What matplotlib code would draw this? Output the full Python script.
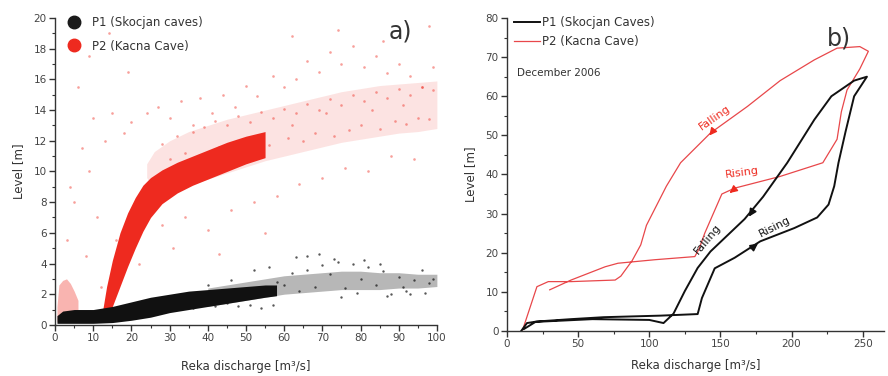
import matplotlib
matplotlib.use("Agg")
import matplotlib.pyplot as plt
from matplotlib.ticker import MultipleLocator
from matplotlib.lines import Line2D

# ---------------- data: panel a ----------------
# dense red band (P2)
red_band_q = [12.5, 13.5, 15.0, 17.0, 19.0, 21.0, 23.0, 25.0, 28.0, 32.0, 36.0, 40.0, 45.0, 50.0, 55.0]
red_band_lo = [0.6, 0.7, 1.2, 2.5, 3.8, 5.0, 6.1, 7.0, 7.9, 8.6, 9.1, 9.5, 10.0, 10.5, 10.9]
red_band_hi = [1.0, 2.5, 4.2, 6.0, 7.3, 8.3, 9.1, 9.6, 10.1, 10.6, 11.0, 11.4, 11.9, 12.3, 12.6]
# diffuse red cloud (P2)
red_cloud_q = [24, 26, 30, 35, 40, 45, 50, 55, 60, 65, 70, 75, 80, 85, 90, 95, 100]
red_cloud_lo = [9.6, 8.8, 8.8, 9.1, 9.5, 9.9, 10.3, 10.7, 11.0, 11.3, 11.6, 11.9, 12.1, 12.3, 12.5, 12.6, 12.8]
red_cloud_hi = [10.5, 11.3, 12.0, 12.6, 13.0, 13.4, 13.7, 14.0, 14.3, 14.6, 14.9, 15.2, 15.4, 15.6, 15.7, 15.8, 15.9]
# low-discharge red patch
red_low_q = [0.5, 1.0, 2.0, 3.0, 4.0, 5.0, 6.0]
red_low_lo = [0.2, 0.2, 0.2, 0.3, 0.3, 0.3, 0.4]
red_low_hi = [1.2, 2.6, 2.9, 3.0, 2.7, 2.2, 1.6]
# sparse red points
red_pts_q = [3, 5, 7, 8, 10, 11, 6, 9, 13, 4, 15, 18, 20, 24, 27, 30, 33, 36, 38, 41, 44, 47, 50, 53,
             57, 60, 63, 66, 69, 72, 75, 78, 81, 84, 87, 90, 93, 96, 99, 28, 34, 40, 46, 52, 58,
             64, 70, 76, 82, 88, 94, 12, 16, 22, 31, 43, 55, 62, 74, 86, 98, 9, 14, 19,
             # inside the diffuse cloud
             28, 32, 36, 39, 42, 45, 48, 51, 54, 57, 60, 63, 66, 69, 72, 75, 78, 81, 84, 87, 90, 93, 96, 99,
             30, 34, 38, 43, 47, 52, 56, 61, 65, 68, 73, 77, 80, 85, 89, 92, 95, 98, 62, 71, 83, 91]
red_pts_l = [5.5, 8.0, 11.5, 4.5, 13.5, 7.0, 15.5, 10.0, 12.0, 9.0, 13.8, 12.5, 13.2, 13.8, 14.2, 13.5, 14.6, 13.0,
             14.8, 13.8, 15.0, 14.2, 15.6, 14.9, 16.2, 15.5, 16.0, 17.2, 16.5, 17.8, 17.0, 18.2, 16.8, 17.5,
             16.4, 17.0, 16.2, 15.5, 16.8, 6.5, 7.0, 6.2, 7.5, 8.0, 8.4, 9.2, 9.6, 10.2, 10.0, 11.0, 10.8,
             2.5, 5.5, 4.0, 5.0, 4.6, 6.0, 18.8, 19.2, 18.5, 19.5, 17.5, 19.0, 16.5,
             11.8, 12.3, 12.6, 12.9, 13.3, 13.0, 13.6, 13.2, 13.9, 13.5, 14.1, 13.8, 14.4, 14.0, 14.7, 14.3,
             15.0, 14.6, 15.2, 14.8, 15.4, 15.0, 15.5, 15.3,
             10.8, 11.2, 11.0, 11.6, 11.4, 11.9, 11.7, 12.2, 12.0, 12.5, 12.3, 12.7, 13.0, 12.8, 13.3, 13.1,
             13.5, 13.4, 13.0, 13.8, 14.0, 14.3]

# dense black band (P1)
blk_band_q = [0.5, 2, 5, 10, 15, 20, 25, 30, 35, 40, 45, 50, 55, 58]
blk_band_lo = [0.1, 0.1, 0.1, 0.1, 0.15, 0.3, 0.5, 0.8, 1.0, 1.2, 1.4, 1.6, 1.8, 1.9]
blk_band_hi = [0.6, 0.9, 1.0, 1.0, 1.2, 1.5, 1.8, 2.0, 2.2, 2.3, 2.4, 2.5, 2.6, 2.6]
# diffuse black cloud (P1)
blk_cloud_q = [40, 45, 50, 55, 60, 65, 70, 75, 80, 85, 90, 95, 100]
blk_cloud_lo = [1.2, 1.4, 1.6, 1.8, 2.0, 2.1, 2.2, 2.3, 2.3, 2.3, 2.4, 2.4, 2.5]
blk_cloud_hi = [2.4, 2.6, 2.8, 3.0, 3.2, 3.3, 3.4, 3.5, 3.5, 3.4, 3.4, 3.3, 3.3]
# sparse black points
blk_pts_q = [30, 33, 36, 39, 42, 45, 48, 51, 54, 57, 60, 62, 64, 66, 68, 70, 72, 74, 76, 78, 80, 82, 84, 86,
             88, 90, 92, 94, 96, 98, 52, 58, 63, 69, 75, 81, 87, 93, 99, 66, 73, 79, 85, 91, 97, 40, 46, 56]
blk_pts_l = [1.2, 1.3, 1.1, 1.3, 1.2, 1.4, 1.2, 1.3, 1.1, 1.3, 2.6, 3.4, 2.2, 3.6, 2.5, 3.9, 3.3, 4.1, 2.4, 4.0,
             3.0, 3.8, 2.6, 3.5, 2.0, 3.1, 2.2, 2.9, 3.6, 2.7, 3.6, 2.8, 4.4, 4.6, 1.8, 4.2, 1.9, 2.0, 3.0,
             4.5, 4.3, 2.1, 4.0, 2.5, 2.1, 2.6, 2.9, 3.8]

# ---------------- data: panel b ----------------
p1_q = [10, 14, 21, 45, 68, 108, 134, 137, 146, 160, 178, 202, 218, 226, 230, 233, 238, 244, 253,
        244, 228, 216, 197, 180, 167, 143, 134, 125, 117, 110, 100, 60, 20, 12]
p1_l = [0, 2.0, 2.4, 3.0, 3.5, 3.9, 4.3, 8.4, 16.0, 18.7, 22.9, 26.3, 29.0, 32.3, 37.0, 43.0, 51.0, 60.0, 65.0,
        64.0, 60.0, 54.0, 43.0, 34.3, 28.6, 20.3, 16.1, 10.2, 4.4, 2.0, 2.8, 3.0, 2.3, 0.5]
p2_q = [30, 45, 69, 78, 104, 132, 135, 139, 145, 151, 160, 192, 222, 232, 235, 239, 248, 254,
        248, 232, 216, 192, 169, 143, 122, 112, 98, 94, 88, 80, 76, 45, 29, 21, 11]
p2_l = [10.5, 13.0, 16.4, 17.3, 18.2, 19.0, 21.0, 25.0, 30.0, 35.0, 36.5, 39.5, 43.0, 49.0, 56.0, 61.6, 67.0, 71.5,
        72.7, 72.3, 69.3, 64.0, 57.4, 50.6, 43.0, 37.0, 27.0, 22.0, 18.0, 14.0, 13.0, 12.6, 12.6, 11.3, 0.3]

# direction arrows: (tail q, tail l, head q, head l)
p1_arrows = [(174, 31.5, 169, 28.6), (170, 20.6, 178, 22.8)]
p2_arrows = [(146, 51.7, 141, 49.4), (159, 36.0, 155, 34.8)]
# rotated labels
lbl_text = ["Falling", "Rising", "Falling", "Rising"]
lbl_q = [146, 165, 141, 188]
lbl_l = [54.5, 40.5, 23.5, 26.5]
lbl_rot = [35, 8, 50, 27]
lbl_series = ["P2", "P2", "P1", "P1"]

RED = "#ee2a1f"
RED_LINE = "#e8474a"
BLK = "#111111"

fig = plt.figure(figsize=(8.88, 3.76), dpi=100)
axA = fig.add_axes([0.062, 0.136, 0.430, 0.816])
axB = fig.add_axes([0.571, 0.120, 0.4245, 0.832])


def style(ax):
    for s in ("top", "right"):
        ax.spines[s].set_visible(False)
    for s in ("left", "bottom"):
        ax.spines[s].set_linewidth(1.0)
        ax.spines[s].set_color("#333333")
    ax.tick_params(which="major", direction="out", length=4, width=1.0, colors="#333333",
                   labelsize=7.5, labelcolor="#444444", pad=2)
    ax.tick_params(which="minor", direction="out", length=2.5, width=0.8, colors="#333333")


# ---- panel a ----
style(axA)
axA.fill_between(red_cloud_q, red_cloud_lo, red_cloud_hi, color=RED, alpha=0.13, lw=0, zorder=1)
axA.fill_between(red_low_q, red_low_lo, red_low_hi, color=RED, alpha=0.35, lw=0, zorder=1)
axA.scatter(red_pts_q, red_pts_l, s=3.5, color=RED, alpha=0.45, lw=0, zorder=2)
axA.fill_between(red_band_q, red_band_lo, red_band_hi, color=RED, lw=0, zorder=3)
axA.fill_between(blk_cloud_q, blk_cloud_lo, blk_cloud_hi, color=BLK, alpha=0.3, lw=0, zorder=4)
axA.scatter(blk_pts_q, blk_pts_l, s=3, color=BLK, alpha=0.7, lw=0, zorder=4)
axA.fill_between(blk_band_q, blk_band_lo, blk_band_hi, color=BLK, lw=0, zorder=5)
axA.set_xlim(0, 100)
axA.set_ylim(0, 20)
axA.xaxis.set_major_locator(MultipleLocator(10))
axA.xaxis.set_minor_locator(MultipleLocator(5))
axA.yaxis.set_major_locator(MultipleLocator(2))
axA.yaxis.set_minor_locator(MultipleLocator(1))
axA.set_xlabel("Reka discharge [m³/s]", fontsize=8.5, color="#333333", labelpad=12)
axA.set_ylabel("Level [m]", fontsize=8.5, color="#333333", labelpad=6)
hA = [Line2D([], [], ls="none", marker="o", ms=9, color="#1a1a1a"),
      Line2D([], [], ls="none", marker="o", ms=9, color=RED)]
axA.legend(hA, ["P1 (Skocjan caves)", "P2 (Kacna Cave)"], loc="upper left", frameon=False,
           fontsize=8.5, handletextpad=0.5, borderaxespad=0.2, bbox_to_anchor=(0.0, 1.03),
           labelspacing=0.9, labelcolor="#333333")
axA.text(0.905, 0.955, "a)", transform=axA.transAxes, fontsize=17, color="#333333",
         ha="center", va="center")

# ---- panel b ----
style(axB)
axB.plot(p1_q, p1_l, color=BLK, lw=1.4, label="P1 (Skocjan Caves)", zorder=3)
axB.plot(p2_q, p2_l, color=RED_LINE, lw=0.9, label="P2 (Kacna Cave)", zorder=2)
for (q0, l0, q1, l1) in p1_arrows:
    axB.annotate("", xy=(q1, l1), xytext=(q0, l0),
                 arrowprops=dict(arrowstyle="-|>", color=BLK, lw=1.2, mutation_scale=11))
for (q0, l0, q1, l1) in p2_arrows:
    axB.annotate("", xy=(q1, l1), xytext=(q0, l0),
                 arrowprops=dict(arrowstyle="-|>", color=RED, lw=1.0, mutation_scale=11))
for t, q, l, r, s in zip(lbl_text, lbl_q, lbl_l, lbl_rot, lbl_series):
    axB.text(q, l, t, rotation=r, fontsize=8, color=(BLK if s == "P1" else RED),
             ha="center", va="center", rotation_mode="anchor")
axB.set_xlim(0, 265)
axB.set_ylim(0, 80)
axB.xaxis.set_major_locator(MultipleLocator(50))
axB.xaxis.set_minor_locator(MultipleLocator(25))
axB.yaxis.set_major_locator(MultipleLocator(10))
axB.yaxis.set_minor_locator(MultipleLocator(5))
axB.set_xlabel("Reka discharge [m³/s]", fontsize=8.5, color="#333333", labelpad=7)
axB.set_ylabel("Level [m]", fontsize=8.5, color="#333333", labelpad=6)
axB.legend(loc="upper left", frameon=False, fontsize=8.5, handlelength=2.2, handletextpad=0.2,
           borderaxespad=0.2, bbox_to_anchor=(0.0, 1.03), labelspacing=0.55, labelcolor="#333333")
axB.text(0.027, 0.824, "December 2006", transform=axB.transAxes, fontsize=7.5, color="#333333",
         ha="left", va="center")
axB.text(0.88, 0.935, "b)", transform=axB.transAxes, fontsize=17, color="#333333",
         ha="center", va="center")

fig.savefig("out.png", dpi=100)
